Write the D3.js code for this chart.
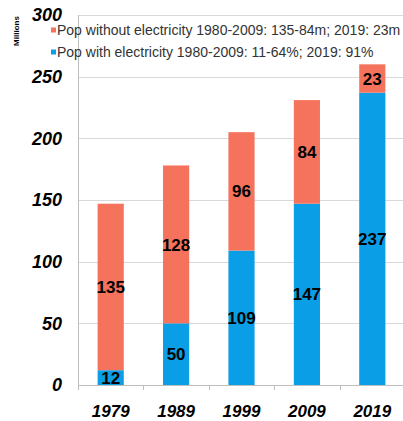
<!DOCTYPE html>
<html>
<head>
<meta charset="utf-8">
<script src="https://cdn.jsdelivr.net/npm/d3@7"></script>
<style>
html,body{margin:0;padding:0;background:#fff;}
svg{display:block;font-family:"Liberation Sans",Arial,sans-serif;}
</style>
</head>
<body>
<svg id="chart" width="403" height="421"></svg>
<script>
const years = ["1979","1989","1999","2009","2019"];
const withElec = [12, 50, 109, 147, 237];
const withoutElec = [135, 128, 96, 84, 23];
const yTicks = [0, 50, 100, 150, 200, 250, 300];
const seriesNames = [
  "Pop without electricity 1980-2009: 135-84m; 2019: 23m",
  "Pop with electricity 1980-2009: 11-64%; 2019: 91%"
];
const colors = {without: "#F5735C", with: "#0A9EE6"};

(function () {
const svg = d3.select("#chart");
const pLeft = 78, pRight = 405, pTop = 15, pBottom = 385;

const x = d3.scaleBand().domain(years).range([pLeft, pRight]).paddingInner(0.6).paddingOuter(0.3);
const xCat = d3.scaleBand().domain(years).range([pLeft, pRight]).padding(0);
const y = d3.scaleLinear().domain([0, 300]).range([pBottom, pTop]);

// gridlines
svg.append("g").selectAll("line").data(yTicks.filter(d => d > 0)).join("line")
  .attr("x1", pLeft).attr("x2", 403)
  .attr("y1", d => Math.round(y(d)) + 0.5).attr("y2", d => Math.round(y(d)) + 0.5)
  .attr("stroke", "#d9d9d9").attr("stroke-width", 1);

// y axis line
svg.append("line").attr("x1", pLeft + 0.5).attr("x2", pLeft + 0.5)
  .attr("y1", y(300)).attr("y2", y(0)).attr("stroke", "#bfbfbf");

// y tick labels
svg.append("g").selectAll("text").data(yTicks).join("text")
  .attr("x", 62).attr("y", d => y(d)).attr("dy", "0.36em")
  .attr("text-anchor", "end")
  .style("font-size", "18px").style("font-weight", "bold").style("font-style", "italic")
  .attr("fill", "#000").text(d => d);

// Millions label
svg.append("text").attr("transform", "translate(19,31) rotate(-90)")
  .attr("text-anchor", "middle")
  .style("font-size", "8px").style("font-weight", "bold")
  .text("Millions");

const data = years.map((yr, i) => ({yr, w: withElec[i], wo: withoutElec[i]}));

// bars: with electricity (bottom)
svg.append("g").selectAll("rect").data(data).join("rect")
  .attr("x", d => x(d.yr)).attr("width", x.bandwidth())
  .attr("y", d => y(d.w)).attr("height", d => y(0) - y(d.w))
  .attr("fill", colors.with);
// bars: without electricity (top)
svg.append("g").selectAll("rect").data(data).join("rect")
  .attr("x", d => x(d.yr)).attr("width", x.bandwidth())
  .attr("y", d => y(d.w + d.wo)).attr("height", d => y(d.w) - y(d.w + d.wo))
  .attr("fill", colors.without);

// x axis line and ticks
svg.append("line").attr("x1", pLeft).attr("x2", 403)
  .attr("y1", pBottom + 0.5).attr("y2", pBottom + 0.5).attr("stroke", "#bfbfbf");
const tickXs = years.map(yr => xCat(yr)).concat([xCat(years[years.length-1]) + xCat.bandwidth()]);
svg.append("g").selectAll("line").data(tickXs).join("line")
  .attr("x1", d => Math.round(d) + 0.5).attr("x2", d => Math.round(d) + 0.5)
  .attr("y1", pBottom).attr("y2", pBottom + 5).attr("stroke", "#bfbfbf");

// x labels
svg.append("g").selectAll("text").data(years).join("text")
  .attr("x", d => x(d) + x.bandwidth() / 2).attr("y", 417)
  .attr("text-anchor", "middle")
  .style("font-size", "17px").style("font-weight", "bold").style("font-style", "italic")
  .text(d => d);

// value labels
const lab = svg.append("g").style("font-size", "17px").style("font-weight", "bold")
  .attr("text-anchor", "middle").attr("fill", "#000");
lab.selectAll("text.w").data(data).join("text").attr("class", "w")
  .attr("x", d => x(d.yr) + x.bandwidth() / 2)
  .attr("y", d => (y(0) + y(d.w)) / 2).attr("dy", "0.36em")
  .text(d => d.w);
lab.selectAll("text.wo").data(data).join("text").attr("class", "wo")
  .attr("x", d => x(d.yr) + x.bandwidth() / 2)
  .attr("y", d => (y(d.w) + y(d.w + d.wo)) / 2).attr("dy", "0.36em")
  .text(d => d.wo);

// legend
const leg = svg.append("g");
const legColors = [colors.without, colors.with];
const legYs = [30, 52];
seriesNames.forEach((name, i) => {
  leg.append("rect").attr("x", 51).attr("y", legYs[i] - 2.5).attr("width", 5).attr("height", 5)
    .attr("fill", legColors[i]);
  leg.append("text").attr("x", 57).attr("y", legYs[i]).attr("dy", "0.36em")
    .style("font-size", "14px").attr("fill", "#333").text(name);
});
})();
</script>
</body>
</html>
